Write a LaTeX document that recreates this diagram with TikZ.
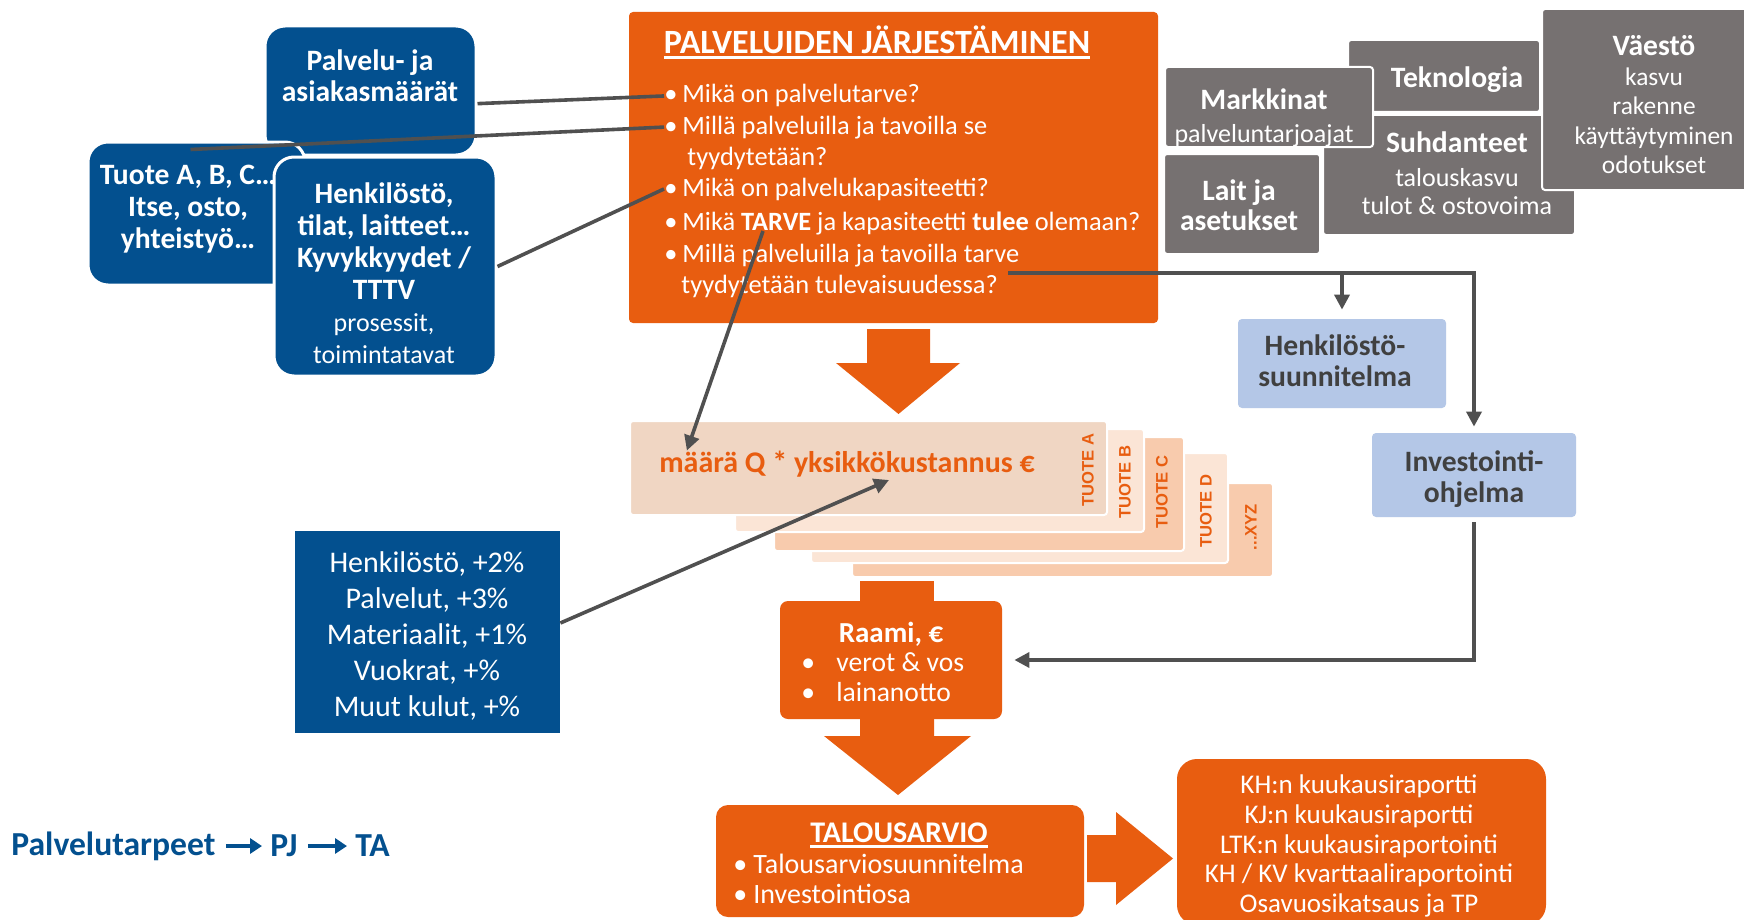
\documentclass[tikz,border=0pt]{standalone}
\usepackage{fontspec}
\setmainfont{Carlito}
\newfontfamily\tuotefont{Liberation Sans}
\usetikzlibrary{arrows.meta}

\definecolor{korange}{HTML}{E85D10}
\definecolor{kblue}{HTML}{03508F}
\definecolor{kgray}{HTML}{767171}
\definecolor{klight}{HTML}{B4C7E7}
\definecolor{kline}{HTML}{505050}
\definecolor{kdark}{HTML}{404040}
\definecolor{kcardA}{HTML}{F0D6C3}
\definecolor{kcardL}{HTML}{FBE5D6}
\definecolor{kcardD}{HTML}{F8CBAD}

\newcommand{\fsz}[2]{\fontsize{#1}{#2}\selectfont}
\newcommand{\bul}{\makebox[9pt][l]{•}}
\newsavebox\ulbox
\newcommand{\thickul}[2][-2.4pt]{\sbox\ulbox{#2}\rlap{\rule[#1]{\wd\ulbox}{1.3pt}}\usebox\ulbox}

\tikzset{
  bluebox/.style={fill=kblue, draw=white, line width=1.5pt, rounded corners=10pt, inner sep=0pt},
  graybox/.style={fill=kgray, draw=white, line width=1pt, rounded corners=1.5pt, inner sep=0pt},
  lightbox/.style={fill=klight, rounded corners=2pt, inner sep=0pt},
  darktext/.style={text=kdark, align=center, inner sep=0pt, font=\bfseries\fsz{14.8}{15.5}},
  card/.style={draw=white, line width=1pt, rounded corners=1.5pt, inner sep=0pt},
  orangebox/.style={fill=korange, inner sep=0pt},
  wtext/.style={text=white, align=center, inner sep=0pt},
  ltext/.style={text=white, inner sep=0pt},
  btext/.style={ltext, anchor=base west, font=\fsz{13.2}{15}},
  tuote/.style={text=korange, rotate=90, inner sep=0pt, font=\tuotefont\bfseries\fsz{8.3}{10}},
  conn/.style={draw=kline, line width=1.8pt},
  endarrow/.style={-{Triangle[width=7.5pt,length=7.5pt]}},
  bluearrow/.style={draw=kblue, line width=2pt, -{Triangle[width=7.5pt,length=6pt]}},
  bottomtext/.style={anchor=west, inner sep=0pt, text=kblue, font=\bfseries\fsz{16.8}{18}},
}

\begin{document}
\begin{tikzpicture}[x=0.5pt, y=-0.5pt]
\useasboundingbox (0,0) rectangle (1744,920);
\fill[white] (0,0) rectangle (1744,920);

% left side boxes
\node[bluebox, minimum width=105.5pt, minimum height=64.5pt] (palvelu) at (370.5,90.5) {};
\node[bluebox, minimum width=108.5pt, minimum height=71.5pt] (tuote) at (196.5,213.5) {};
\node[bluebox, minimum width=111pt, minimum height=109.5pt] (henk) at (385,266.5) {};
\node[wtext, font=\bfseries\fsz{14.8}{15.5}] (palvelutxt) at (370,75.5) {Palvelu- ja\\asiakasmäärät};
\node[wtext, font=\bfseries\fsz{14.8}{16}] (tuotetxt) at (188,209.5) {Tuote A, B, C…\\Itse, osto,\\yhteistyö…};
\node[wtext, font=\fsz{13}{16}] (henktxt) at (384,273) {{\bfseries\fsz{14.8}{16}Henkilöstö,}\\{\bfseries\fsz{14.8}{16}tilat, laitteet…}\\{\bfseries\fsz{14.8}{16}Kyvykkyydet /}\\{\bfseries\fsz{14.8}{16}TTTV}\\prosessit,\\toimintatavat};

% palveluiden jarjestaminen
\node[orangebox, rounded corners=2pt, minimum width=264.5pt, minimum height=155.5pt] (pj) at (893.5,167.5) {};
\node[ltext, anchor=base, font=\bfseries\fsz{17}{19}] (pjtitle) at (877,54) {\thickul{PALVELUIDEN JÄRJESTÄMINEN}};
\node[btext] (b1) at (664,103) {\bul Mikä on palvelutarve?};
\node[btext] (b2) at (664,134) {\bul Millä palveluilla ja tavoilla se};
\node[btext] (b2b) at (687,165) {tyydytetään?};
\node[btext] (b3) at (664,196) {\bul Mikä on palvelukapasiteetti?};
\node[btext] (b4) at (664,230) {\bul Mikä \textbf{TARVE} ja kapasiteetti \textbf{tulee} olemaan?};
\node[btext] (b5) at (664,262) {\bul Millä palveluilla ja tavoilla tarve};
\node[btext] (b5b) at (681,293) {tyydytetään tulevaisuudessa?};

% toimintaymparisto
\node[graybox, minimum width=96pt, minimum height=36pt] (tekno) at (1444,76) {};
\node[graybox, minimum width=126pt, minimum height=60pt] (suhd) at (1449,175) {};
\node[graybox, minimum width=78pt, minimum height=50pt] (lait) at (1242,204) {};
\node[graybox, minimum width=104pt, minimum height=40pt] (markk) at (1269,107) {};
\node[graybox, minimum width=104pt, minimum height=90.5pt] (vaesto) at (1646,99.5) {};
\node[wtext, font=\bfseries\fsz{14.8}{16}] (teknotxt) at (1457,80) {Teknologia};
\node[wtext, font=\fsz{13}{14}] (suhdtxt) at (1457,173) {{\bfseries\fsz{14.8}{14}Suhdanteet}\\[3pt]talouskasvu\\tulot \& ostovoima};
\node[wtext, font=\bfseries\fsz{14.8}{15}] (laittxt) at (1239,205) {Lait ja\\asetukset};
\node[wtext, font=\fsz{13}{16.5}] (markktxt) at (1264,117.5) {{\bfseries\fsz{14.8}{16.5}Markkinat}\\palveluntarjoajat};
\node[wtext, font=\fsz{12.7}{14.75}] (vaestotxt) at (1654,105) {{\bfseries\fsz{14.8}{14.75}Väestö}\\kasvu\\rakenne\\käyttäytyminen\\odotukset};

% tuotekortit
\node[card, fill=kcardD, minimum width=210.5pt, minimum height=47pt] (cardE) at (1062.5,530) {};
\node[card, fill=kcardL, minimum width=208.5pt, minimum height=55pt] (cardD) at (1019.5,508) {};
\node[card, fill=kcardD, minimum width=205pt, minimum height=57pt] (cardC) at (979,494) {};
\node[card, fill=kcardL, minimum width=204.5pt, minimum height=51.5pt] (cardB) at (939.5,480.5) {};
\node[card, fill=kcardA, minimum width=238.5pt, minimum height=47pt] (cardA) at (868.5,468) {};
\node[tuote] (labA) at (1088,470) {TUOTE A};
\node[tuote] (labB) at (1125,482) {TUOTE B};
\node[tuote] (labC) at (1162,492) {TUOTE C};
\node[tuote] (labD) at (1206,511) {TUOTE D};
\node[tuote] (labE) at (1251,527) {...XYZ};
\node[inner sep=0pt, text=korange, font=\bfseries\fsz{15}{18}] (maara) at (847,464) {määrä Q * yksikkökustannus €};

% isot nuolet
\fill[korange] (867,329) -- (930,329) -- (930,363) -- (960,363) -- (898.5,414) -- (836,363) -- (867,363) -- cycle;
\fill[korange] (860,581) rectangle (934,602);
\fill[korange] (860,712) -- (934,712) -- (934,736) -- (971,736) -- (898,795) -- (824,736) -- (860,736) -- cycle;
\fill[korange] (1087,835) -- (1116,835) -- (1116,812) -- (1173,858.5) -- (1116,905) -- (1116,882) -- (1087,882) -- cycle;

% raami ja talousarvio
\node[orangebox, rounded corners=4pt, minimum width=111pt, minimum height=59pt] (raami) at (891,660) {};
\node[ltext, font=\bfseries\fsz{14.5}{16}] (raamititle) at (891,634) {Raami, €};
\node[ltext, anchor=west, align=left, font=\fsz{13.8}{15}] (raamilist) at (801,677) {\makebox[17.5pt][l]{•}verot \& vos\\\makebox[17.5pt][l]{•}lainanotto};
\node[orangebox, rounded corners=6pt, minimum width=184pt, minimum height=56pt] (ta) at (900,861) {};
\node[ltext, anchor=base, font=\bfseries\fsz{15}{18}] (tatitle) at (899,842) {\thickul[-2.8pt]{TALOUSARVIO}};
\node[ltext, anchor=west, align=left, font=\fsz{14}{15}] (talist) at (733,879) {\makebox[10pt][l]{•}Talousarviosuunnitelma\\\makebox[10pt][l]{•}Investointiosa};
\node[orangebox, rounded corners=10pt, minimum width=184.5pt, minimum height=83pt] (raportit) at (1361.5,842) {};
\node[wtext, font=\fsz{13.5}{14.9}] (raporttxt) at (1359,846)
  {KH:n kuukausiraportti\\KJ:n kuukausiraportti\\LTK:n kuukausiraportointi\\KH / KV kvarttaaliraportointi\\Osavuosikatsaus ja TP};

% kustannusten muutokset
\node[fill=kblue, inner sep=0pt, minimum width=132.5pt, minimum height=101pt] (kulut) at (427.5,632) {};
\node[wtext, font=\fsz{15}{18.1}] (kuluttxt) at (427,636)
  {Henkilöstö, +2\%\\Palvelut, +3\%\\Materiaalit, +1\%\\Vuokrat, +\%\\Muut kulut, +\%};

% suunnitelmat
\node[lightbox, minimum width=104pt, minimum height=44.5pt] (hsuun) at (1342,363.5) {};
\node[darktext] (hsuuntxt) at (1335,361) {Henkilöstö-\\suunnitelma};
\node[lightbox, minimum width=102pt, minimum height=42pt] (invest) at (1474,475) {};
\node[darktext] (investtxt) at (1474,479.5) {Investointi-\\ohjelma};

% yhteydet
\coordinate (tarve) at (763,231);
\coordinate (kust) at (889,480);
\coordinate (fut) at ([xshift=5pt,yshift=6.5pt]b5b.east);
\draw[conn] (palvelu.-7) -- (b1.west);
\draw[conn] ([xshift=-3pt,yshift=-4.5pt]tuote.north) -- (b2.west);
\draw[conn] (henk.east) -- (b3.west);
\draw[conn, endarrow] (tarve) -- ([xshift=14pt]maara.north west);
\draw[conn, endarrow] ([yshift=4.5pt]kulut.east) -- (kust);
\draw[conn, endarrow, shorten >=3pt] (fut) -| (invest.north);
\draw[conn, endarrow, shorten >=4.5pt] (fut -| hsuun.north) -- (hsuun.north);
\draw[conn, endarrow, shorten <=2.5pt, shorten >=6pt] (invest.south) |- (raami.east);

% alaosan teksti
\node[bottomtext] (ptarve) at (11,846) {Palvelutarpeet};
\node[bottomtext] (pjtxt) at (270,846) {PJ};
\node[bottomtext] (tatxt) at (355,846) {TA};
\draw[bluearrow, shorten <=5pt, shorten >=4pt] (ptarve) -- (pjtxt);
\draw[bluearrow, shorten <=5pt, shorten >=4pt] (pjtxt) -- (tatxt);
\end{tikzpicture}
\end{document}
